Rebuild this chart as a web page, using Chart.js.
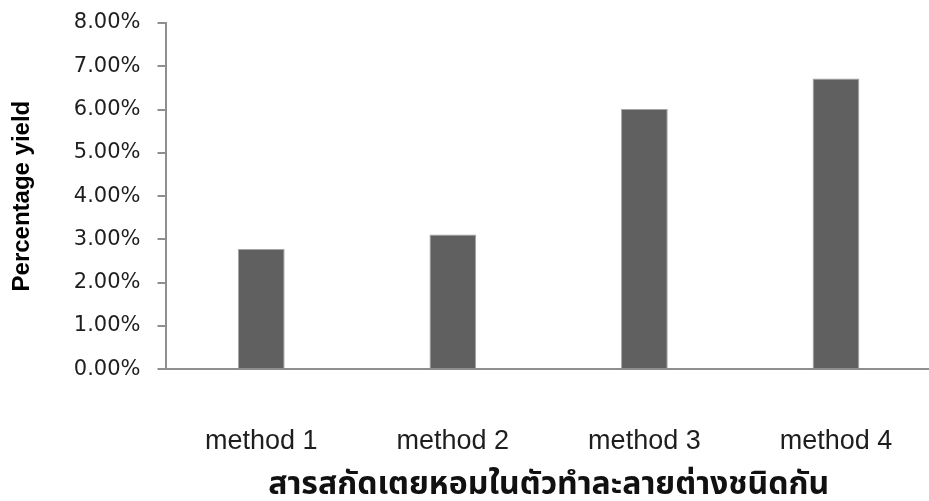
<!DOCTYPE html>
<html>
<head>
<meta charset="utf-8">
<script src="https://cdn.jsdelivr.net/npm/chart.js@4/dist/chart.umd.min.js"></script>
<style>
  html, body { margin: 0; padding: 0; background: #ffffff; overflow: hidden; }
  #wrap { position: relative; width: 950px; height: 501px; }
</style>
</head>
<body>
<div id="wrap"><canvas id="chart" width="950" height="501"></canvas></div>
<script>
// Extraction yield per solvent method
const methods = ['method 1', 'method 2', 'method 3', 'method 4'];
const yieldValues = [0.0278, 0.0311, 0.0601, 0.0672];
const yTickMax = 0.08;
const yTickStep = 0.01;
const yAxisTitle = 'Percentage yield';
const xAxisTitle = 'สารสกัดเตยหอมในตัวทำละลายต่างชนิดกัน';

const axisGray = '#8f8f8f';

new Chart(document.getElementById('chart'), {
  type: 'bar',
  data: {
    labels: methods,
    datasets: [{
      data: yieldValues,
      backgroundColor: '#606060',
      borderColor: '#a4a4a4',
      borderWidth: 1,
      barPercentage: 0.244,
      categoryPercentage: 1.0
    }]
  },
  options: {
    responsive: false,
    animation: false,
    layout: { padding: { top: 23, right: 14, left: 0, bottom: 0 } },
    plugins: {
      legend: { display: false },
      tooltip: { enabled: false }
    },
    scales: {
      x: {
        offset: true,
        grid: { display: false, drawTicks: false },
        border: { display: true, color: axisGray, width: 2 },
        ticks: {
          color: '#1e1e1e',
          padding: 56,
          font: { family: '"Liberation Sans", Arial, sans-serif', size: 27 }
        },
        title: {
          display: true,
          text: xAxisTitle,
          color: '#111111',
          padding: { top: -45, bottom: -6 },
          font: { family: 'Tahoma, "Noto Sans Thai", "Leelawadee UI", "DejaVu Sans", sans-serif', size: 32, weight: 'bold' }
        }
      },
      y: {
        min: 0,
        max: yTickMax,
        grid: { drawOnChartArea: false, drawTicks: true, tickLength: 8, color: axisGray, lineWidth: 2 },
        border: { display: true, color: axisGray, width: 2 },
        ticks: {
          stepSize: yTickStep,
          padding: 17,
          color: '#1e1e1e',
          font: { family: '"DejaVu Sans", Verdana, sans-serif', size: 21, lineHeight: 0.5 },
          callback: (v) => (v * 100).toFixed(2) + '%'
        },
        title: {
          display: true,
          text: yAxisTitle,
          color: '#000000',
          padding: { top: 8, bottom: 20 },
          font: { family: '"Liberation Sans", Arial, sans-serif', size: 24, weight: 'bold' }
        }
      }
    }
  }
});
</script>
</body>
</html>
